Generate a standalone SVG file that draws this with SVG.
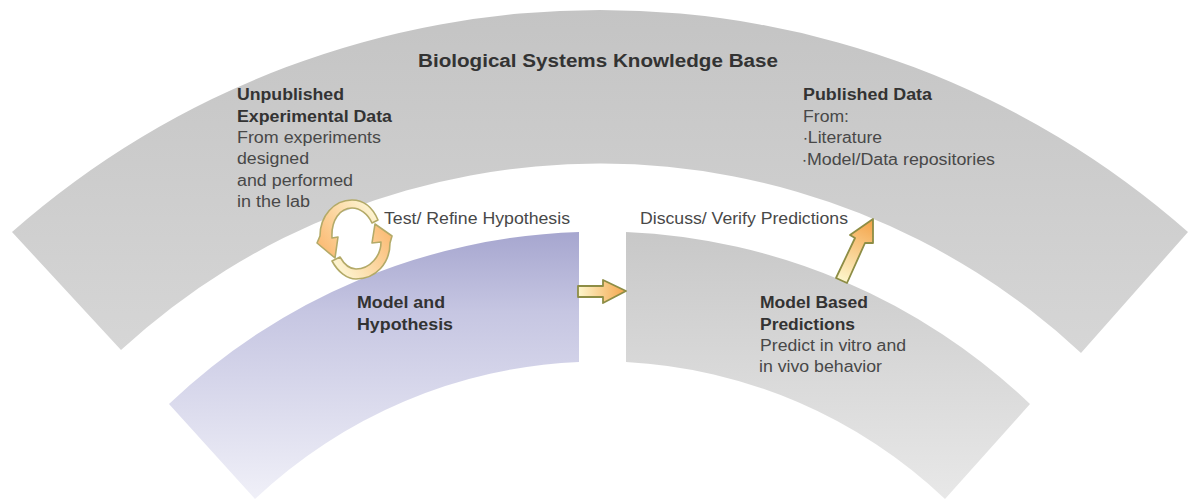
<svg xmlns="http://www.w3.org/2000/svg" width="1192" height="501" viewBox="0 0 1192 501">
<style>
text{font-family:"Liberation Sans",Arial,sans-serif;font-size:16px;fill:#484848}
.b{font-weight:bold;fill:#333}
.t{font-size:18px}
.arr{stroke:#8d8d45;stroke-width:1.8;stroke-linejoin:round}
.ring{stroke:#b3aa68;stroke-width:1.6;stroke-linejoin:round}
</style>
<defs>
<linearGradient id="kb" gradientUnits="userSpaceOnUse" x1="0" y1="10" x2="0" y2="353"><stop offset="0" stop-color="#c4c4c4"/><stop offset="1" stop-color="#d6d6d6"/></linearGradient>
<linearGradient id="mh" gradientUnits="userSpaceOnUse" x1="0" y1="232" x2="0" y2="499"><stop offset="0" stop-color="#a6a6cf"/><stop offset="0.3" stop-color="#c6c6e2"/><stop offset="1" stop-color="#f0f0f8"/></linearGradient>
<linearGradient id="mp" gradientUnits="userSpaceOnUse" x1="0" y1="232" x2="0" y2="499"><stop offset="0" stop-color="#c8c8c8"/><stop offset="1" stop-color="#e8e8e8"/></linearGradient>
<linearGradient id="a1" gradientUnits="userSpaceOnUse" x1="578" y1="0" x2="626" y2="0"><stop offset="0" stop-color="#fdf6cc"/><stop offset="1" stop-color="#f4a54c"/></linearGradient>
<linearGradient id="a2" gradientUnits="userSpaceOnUse" x1="842" y1="281" x2="872" y2="222"><stop offset="0" stop-color="#fdf6cc"/><stop offset="1" stop-color="#f4a54c"/></linearGradient>
<linearGradient id="r1" gradientUnits="userSpaceOnUse" x1="375" y1="215" x2="325" y2="250"><stop offset="0" stop-color="#fdf3cf"/><stop offset="1" stop-color="#fbbd78"/></linearGradient>
<linearGradient id="r2" gradientUnits="userSpaceOnUse" x1="335" y1="262" x2="385" y2="230"><stop offset="0" stop-color="#fdf3cf"/><stop offset="1" stop-color="#fbbd78"/></linearGradient>
</defs>
<g id="knowledge-base">
<path d="M12 232A889.7 889.7 0 0 1 1188 232L1081 353A706.8 706.8 0 0 0 121 350Z" fill="url(#kb)"/>
<text x="418" y="67" class="b t" textLength="360" lengthAdjust="spacingAndGlyphs">Biological Systems Knowledge Base</text>
<text x="237" y="100" class="b" textLength="107" lengthAdjust="spacingAndGlyphs">Unpublished</text>
<text x="237" y="122" class="b" textLength="155" lengthAdjust="spacingAndGlyphs">Experimental Data</text>
<text x="237" y="143" textLength="144" lengthAdjust="spacingAndGlyphs">From experiments</text>
<text x="237" y="164" textLength="72" lengthAdjust="spacingAndGlyphs">designed</text>
<text x="237" y="186" textLength="116" lengthAdjust="spacingAndGlyphs">and performed</text>
<text x="237" y="207" textLength="73" lengthAdjust="spacingAndGlyphs">in the lab</text>
<text x="803" y="100" class="b" textLength="129" lengthAdjust="spacingAndGlyphs">Published Data</text>
<text x="803" y="122" textLength="46" lengthAdjust="spacingAndGlyphs">From:</text>
<text x="803" y="143" textLength="79" lengthAdjust="spacingAndGlyphs">∙Literature</text>
<text x="802" y="165" textLength="193" lengthAdjust="spacingAndGlyphs">∙Model/Data repositories</text>
</g>
<g id="model-hypothesis">
<path d="M169 404A623 623 0 0 1 579 232V362A503 503 0 0 0 255 499Z" fill="url(#mh)"/>
<text x="357" y="308" class="b" textLength="88" lengthAdjust="spacingAndGlyphs">Model and</text>
<text x="357" y="330" class="b" textLength="96" lengthAdjust="spacingAndGlyphs">Hypothesis</text>
</g>
<g id="model-predictions">
<path d="M626 232A623 623 0 0 1 1030 404L945 499A503 503 0 0 0 626 362Z" fill="url(#mp)"/>
<text x="760" y="308" class="b" textLength="108" lengthAdjust="spacingAndGlyphs">Model Based</text>
<text x="760" y="330" class="b" textLength="95" lengthAdjust="spacingAndGlyphs">Predictions</text>
<text x="760" y="351" textLength="146" lengthAdjust="spacingAndGlyphs">Predict in vitro and</text>
<text x="759" y="372" textLength="123" lengthAdjust="spacingAndGlyphs">in vivo behavior</text>
</g>
<g id="labels">
<text x="384" y="224" textLength="186" lengthAdjust="spacingAndGlyphs">Test/ Refine Hypothesis</text>
<text x="640" y="224" textLength="208" lengthAdjust="spacingAndGlyphs">Discuss/ Verify Predictions</text>
</g>
<g id="connectors">
<path class="arr" d="M578 286H603V280L626 291L603 303V297H578Z" fill="url(#a1)"/>
<path class="arr" d="M836 278L855 238L850 235L873 219L873 243L865 243L847 283Z" fill="url(#a2)"/>
<path class="ring" d="M378 220C372 206 362 200 352 200C334 200 320 216 320 236L317 243L335 258L338 237L332 238C331 220 340 208 352 208C360 208 368 214 372 223Z" fill="url(#r1)"/>
<path class="ring" d="M332 261C338 272 347 279 356 279C376 279 390 263 390 243L392 236L375 224L372 243L381 242C381 256 370 269 356 269C350 269 344 264 340 257Z" fill="url(#r2)"/>
</g>
</svg>
